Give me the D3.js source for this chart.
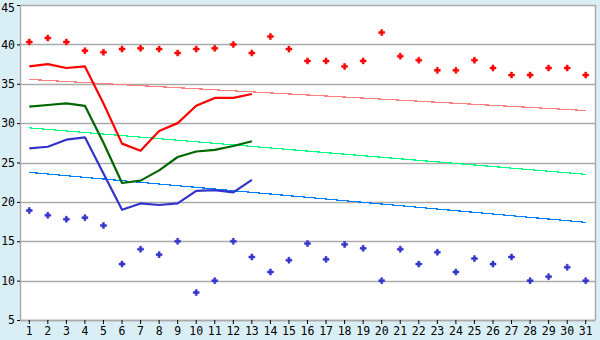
<!DOCTYPE html>
<html lang="en">
<head>
    <meta charset="UTF-8">
    <title>Daily values</title>
    <script src="https://cdnjs.cloudflare.com/ajax/libs/d3/7.8.5/d3.min.js"></script>
    <style>
        body {
            margin: 0;
            background-color: #daeff5;
        }
        #chart text {
            font-family: "DejaVu Sans Mono", monospace;
            font-size: 11.5px;
            fill: #000;
        }
    </style>
</head>
<body>
    <svg id="chart"></svg>

    <script>
        // Chart data
        const days = d3.range(1, 32);
        const yTicks = [5, 10, 15, 20, 25, 30, 35, 40, 45];

        const redPoints = [40.3, 40.8, 40.3, 39.2, 39.0, 39.4, 39.5, 39.4, 38.9, 39.4,
            39.5, 40.0, 38.9, 41.0, 39.4, 37.9, 37.9, 37.2, 37.9, 41.5,
            38.5, 38.0, 36.7, 36.7, 38.0, 37.0, 36.1, 36.1, 37.0, 37.0, 36.1];
        const bluePoints = [18.9, 18.3, 17.8, 18.0, 17.0, 12.1, 14.0, 13.3, 15.0, 8.5,
            10.0, 15.0, 13.0, 11.1, 12.6, 14.7, 12.7, 14.6, 14.1, 10.0,
            14.0, 12.1, 13.6, 11.1, 12.8, 12.1, 13.0, 10.0, 10.5, 11.7, 10.0];

        const redLine = [37.2, 37.5, 37.0, 37.2, 32.5, 27.4, 26.5, 29.0, 30.0, 32.2, 33.2, 33.2, 33.7];
        const greenLine = [32.1, 32.3, 32.5, 32.2, 27.5, 22.4, 22.7, 24.0, 25.7, 26.4, 26.6, 27.1, 27.7];
        const blueLine = [26.8, 27.0, 27.9, 28.2, 23.6, 19.0, 19.8, 19.6, 19.8, 21.4, 21.5, 21.2, 22.8];

        // trend lines: value on day 1 and on day 31
        const redTrend = [35.55, 31.6];
        const greenTrend = [29.4, 23.5];
        const blueTrend = [23.75, 17.4];

        // Configuration
        const width = 600;
        const height = 340;
        const margin = { top: 5, right: 5, bottom: 20, left: 20 };

        const svg = d3.select("#chart")
            .attr("width", width)
            .attr("height", height);

        const x = d3.scaleBand()
            .domain(days)
            .range([margin.left, width - margin.right]);
        const cx = d => x(d) + x.bandwidth() / 2;

        const y = d3.scaleLinear()
            .domain([5, 45])
            .range([height - margin.bottom, margin.top]);

        // Plot area
        svg.append("rect")
            .attr("x", margin.left)
            .attr("y", margin.top)
            .attr("width", width - margin.left - margin.right)
            .attr("height", height - margin.top - margin.bottom)
            .attr("fill", "#fff");

        // Gridlines
        svg.append("g")
            .selectAll("line")
            .data(yTicks)
            .enter().append("line")
            .attr("x1", margin.left)
            .attr("x2", width - margin.right)
            .attr("y1", d => Math.round(y(d)) + 0.5)
            .attr("y2", d => Math.round(y(d)) + 0.5)
            .attr("stroke", "#aaa")
            .attr("stroke-width", 1.5);

        // Right border
        svg.append("line")
            .attr("x1", width - margin.right + 0.5)
            .attr("x2", width - margin.right + 0.5)
            .attr("y1", margin.top)
            .attr("y2", height - margin.bottom)
            .attr("stroke", "#aaa")
            .attr("stroke-width", 1.5);

        // Axes
        const yAxis = svg.append("g")
            .attr("transform", `translate(${margin.left},0)`)
            .call(d3.axisLeft(y).tickValues(yTicks).tickSize(3).tickPadding(2).tickSizeOuter(0));
        const xAxis = svg.append("g")
            .attr("transform", `translate(0,${height - margin.bottom})`)
            .call(d3.axisBottom(x).tickSize(4).tickPadding(3).tickSizeOuter(0));

        [yAxis, xAxis].forEach(a => {
            a.select(".domain").attr("stroke", "#aaa").attr("stroke-width", 1.5);
            a.selectAll(".tick line").attr("stroke", "#000");
            a.selectAll("text").attr("font-family", null).attr("font-size", null);
        });
        // keep the top label inside the picture
        yAxis.selectAll(".tick text").attr("dy", d => d === 45 ? "0.55em" : "0.32em");

        // Trend lines
        const trends = [
            { values: redTrend, color: "#ff8080" },
            { values: greenTrend, color: "#00ff80" },
            { values: blueTrend, color: "#0080ff" }
        ];
        svg.append("g")
            .selectAll("line")
            .data(trends)
            .enter().append("line")
            .attr("x1", cx(days[0]))
            .attr("x2", cx(days[days.length - 1]))
            .attr("y1", d => y(d.values[0]))
            .attr("y2", d => y(d.values[1]))
            .attr("stroke", d => d.color)
            .attr("stroke-width", 1.2)
            .attr("shape-rendering", "crispEdges");

        // Thick lines
        const line = d3.line()
            .x((d, i) => cx(days[i]))
            .y(d => y(d));
        const series = [
            { values: redLine, color: "#ff0000" },
            { values: greenLine, color: "#006600" },
            { values: blueLine, color: "#3333cc" }
        ];
        svg.append("g")
            .selectAll("path")
            .data(series)
            .enter().append("path")
            .attr("d", d => line(d.values))
            .attr("fill", "none")
            .attr("stroke", d => d.color)
            .attr("stroke-width", 2.2)
            .attr("stroke-linejoin", "round");

        // Markers
        const marker = d3.symbol().type(d3.symbolCross).size(20);
        const pointSets = [
            { values: redPoints, color: "#ff0000" },
            { values: bluePoints, color: "#3333cc" }
        ];
        pointSets.forEach(set => {
            svg.append("g")
                .selectAll("path")
                .data(set.values)
                .enter().append("path")
                .attr("d", marker)
                .attr("transform", (d, i) => `translate(${cx(days[i])},${y(d)})`)
                .attr("fill", set.color)
                .attr("stroke", set.color)
                .attr("stroke-width", 0.5);
        });
    </script>
</body>
</html>
